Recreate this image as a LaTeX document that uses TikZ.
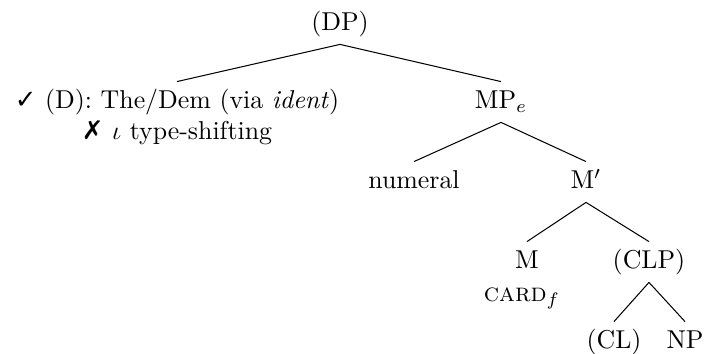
\documentclass[tikz,border=0pt]{standalone}
\usepackage{amsmath,amssymb}
\usepackage{fontspec}
\newfontfamily\symfont{DejaVu Sans}
\usepackage{tikz}

\begin{document}
\begin{tikzpicture}[x=0.387pt,y=-0.387pt,
    lab/.style={inner sep=2.7pt,text height=7.5pt,text depth=2.5pt}]
    \useasboundingbox (0,0) rectangle (704,354);
    % nodes
    \node[lab] (dp) at (340,24) {(DP)};
    \node[lab] (dleft) at (177,102) {{\symfont\char"2713} (D): The/Dem (via \textit{ident})};
    \node[lab] (shift) at (177,133) {{\symfont\char"2717} $\iota$ type-shifting};
    \node[lab] (mp) at (501,102) {MP$_e$};
    \node[lab] (num) at (414,182) {numeral};
    \node[lab] (mbar) at (586,182) {M$'$};
    \node[lab] (m) at (527,262) {M};
    \node[lab] (card) at (522,295) {\textsc{card}$_f$};
    \node[lab] (clp) at (649,262) {(CLP)};
    \node[lab] (cl) at (614,342) {(CL)};
    \node[lab] (np) at (685,342) {NP};
    % branches
    \draw (dp.south) -- (dleft.north);
    \draw (dp.south) -- (mp.north);
    \draw (mp.south) -- (num.north);
    \draw (mp.south) -- (mbar.north);
    \draw (mbar.south) -- (m.north);
    \draw (mbar.south) -- (clp.north);
    \draw (clp.south) -- (cl.north);
    \draw (clp.south) -- (np.north);
\end{tikzpicture}
\end{document}
